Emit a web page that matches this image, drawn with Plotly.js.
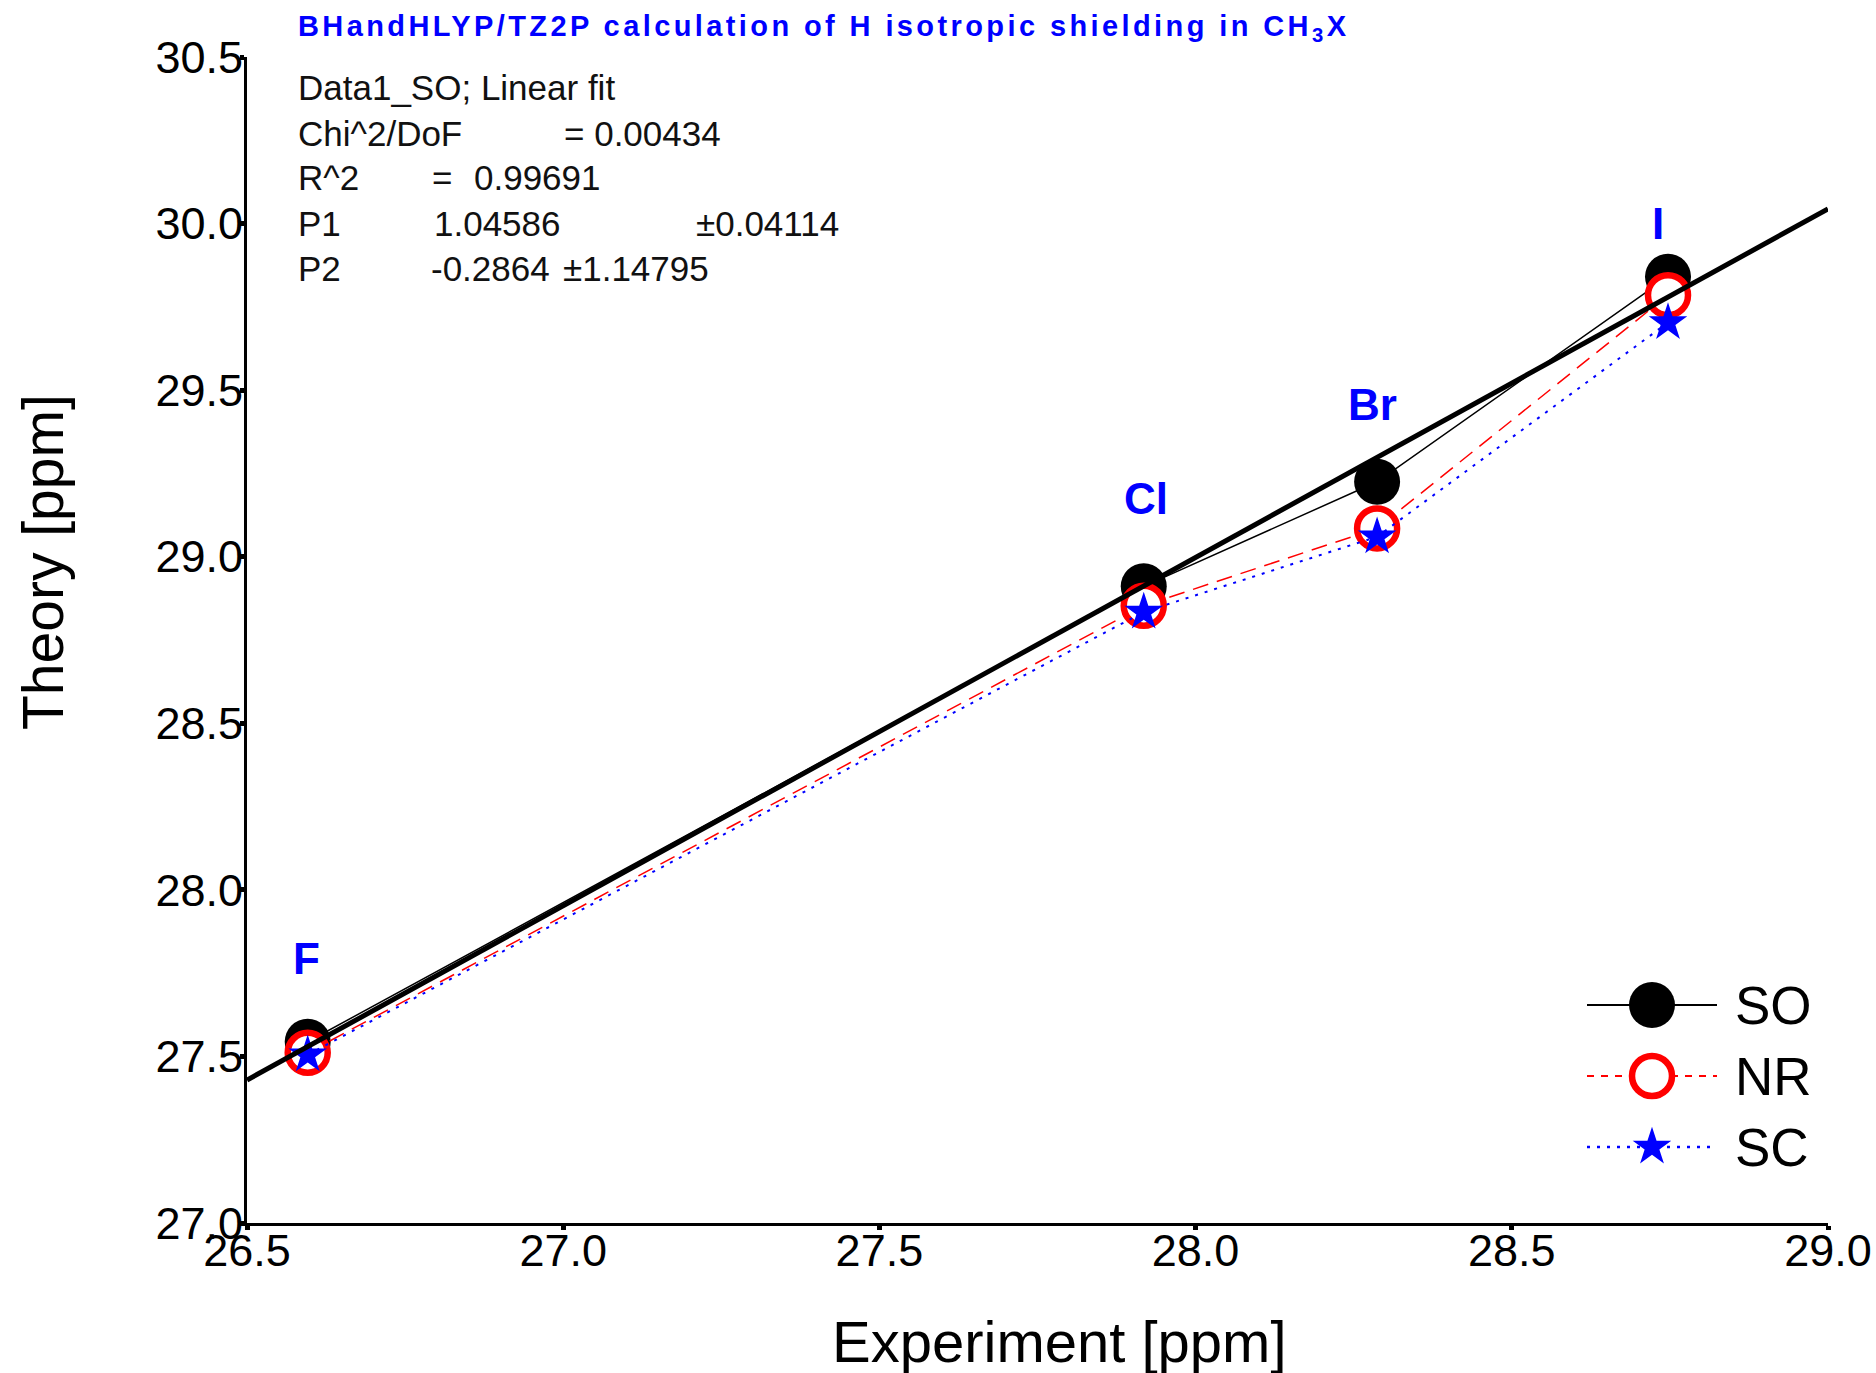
<!DOCTYPE html>
<html>
<head>
<meta charset="utf-8">
<script src="https://cdn.plot.ly/plotly-3.0.1.min.js"></script>
<style>
  html, body { margin: 0; padding: 0; background: #ffffff; }
  #chart { width: 1876px; height: 1373px; }
  #chart .gtitle { letter-spacing: 3.4px; }
</style>
</head>
<body>
<div id="chart"></div>
<script>
// ---------------- data ----------------
const elements   = ['F', 'Cl', 'Br', 'I'];
const expX       = [26.596, 27.918, 28.287, 28.747];   // Experiment [ppm]
const theorySO   = [27.544, 28.911, 29.225, 29.840];   // SO
const theoryNR   = [27.511, 28.853, 29.085, 29.785];   // NR
const theorySC   = [27.505, 28.834, 29.060, 29.703];   // SC
const fitX       = [26.5, 29.0];                        // linear fit end points
const fitY       = [27.429, 30.044];
const labelX     = [26.594, 27.922, 28.279, 28.731];   // element label anchors
const labelY     = [27.795, 29.176, 29.458, 30.000];
const xTickVals  = [26.5, 27.0, 27.5, 28.0, 28.5, 29.0];
const xTickText  = ['26.5', '27.0', '27.5', '28.0', '28.5', '29.0'];
const yTickVals  = [27.0, 27.5, 28.0, 28.5, 29.0, 29.5, 30.0, 30.5];
const yTickText  = ['27.0', '27.5', '28.0', '28.5', '29.0', '29.5', '30.0', '30.5'];
const seriesNames = ['SO', 'NR', 'SC'];
const fitStats = [
  ['Data1_SO; Linear fit'],
  ['Chi^2/DoF', '= 0.00434'],
  ['R^2', '=', '0.99691'],
  ['P1', '1.04586', '\u00b10.04114'],
  ['P2', '-0.2864', '\u00b11.14795']
];
const xTitle = 'Experiment [ppm]';
const yTitle = 'Theory [ppm]';
const chartTitle = '<b>BHandHLYP/TZ2P calculation of H isotropic shielding in CH<sub>3</sub>X</b>';

// ---------------- layout geometry (pixels) ----------------
const W = 1876, H = 1373;
const L = 247, R = 1828, T = 57, B = 1223;
const px2x = p => (p - L) / (R - L);
const px2y = p => (B - p) / (B - T);
const FONT = 'Liberation Sans, Arial, sans-serif';

const statCols = [
  [296],
  [296, 562],
  [296, 430, 472],
  [296, 432, 694],
  [296, 429, 561]
];
const statRows = [88, 133, 178, 223, 268];

const annotations = [];
fitStats.forEach((row, i) => {
  row.forEach((txt, j) => {
    annotations.push({
      xref: 'paper', yref: 'paper',
      x: px2x(statCols[i][j]), y: px2y(statRows[i]),
      xanchor: 'left', yanchor: 'middle',
      text: txt, showarrow: false,
      font: { family: FONT, size: 35, color: '#111111' }
    });
  });
});

elements.forEach((el, i) => {
  annotations.push({
    xref: 'x', yref: 'y',
    x: labelX[i], y: labelY[i],
    xanchor: 'center', yanchor: 'middle',
    text: '<b>' + el + '</b>', showarrow: false,
    font: { family: FONT, size: 44, color: '#0000ff' }
  });
});

// axis titles (placed like the reference, which is not centred on the axes)
annotations.push({
  xref: 'paper', yref: 'paper',
  x: px2x(1059), y: px2y(1341),
  xanchor: 'center', yanchor: 'middle',
  text: xTitle, showarrow: false,
  font: { family: FONT, size: 58, color: '#000000' }
});
annotations.push({
  xref: 'paper', yref: 'paper',
  x: px2x(43), y: px2y(562),
  xanchor: 'center', yanchor: 'middle', textangle: -90,
  text: yTitle, showarrow: false,
  font: { family: FONT, size: 57, color: '#000000' }
});

// custom legend (drawn on an overlay pixel-coordinate axis pair)
const legRows = [1005, 1076, 1147];
const legLineX = [1587, 1717];
const legMarkX = 1652;
const legTextX = 1733;
seriesNames.forEach((nm, i) => {
  annotations.push({
    xref: 'x2', yref: 'y2',
    x: legTextX, y: legRows[i],
    xanchor: 'left', yanchor: 'middle',
    text: nm, showarrow: false,
    font: { family: FONT, size: 53, color: '#000000' }
  });
});

const styles = {
  SO: { line: { color: '#000000', width: 1.5, dash: 'solid' },
        marker: { symbol: 'circle', size: 46, color: '#000000', line: { width: 0 } } },
  NR: { line: { color: '#ff0000', width: 1.5, dash: '16px,9px' },
        marker: { symbol: 'circle', size: 40, color: '#ffffff', line: { color: '#ff0000', width: 6.5 } } },
  SC: { line: { color: '#0000ff', width: 2, dash: '3px,7px' },
        marker: { symbol: 'star', size: 29, color: '#0000ff', line: { width: 0 } } }
};
const legDash = { SO: 'solid', NR: '7px,7px', SC: '3px,7px' };

const traces = [];
const ys = { SO: theorySO, NR: theoryNR, SC: theorySC };
seriesNames.forEach(nm => {
  traces.push({
    type: 'scatter', mode: 'lines+markers', name: nm,
    x: expX, y: ys[nm],
    line: styles[nm].line, marker: styles[nm].marker,
    showlegend: false, hoverinfo: 'x+y'
  });
});
traces.push({
  type: 'scatter', mode: 'lines', name: 'Linear fit',
  x: fitX, y: fitY,
  line: { color: '#000000', width: 5 },
  showlegend: false
});
seriesNames.forEach((nm, i) => {
  traces.push({
    type: 'scatter', mode: 'lines', xaxis: 'x2', yaxis: 'y2',
    x: legLineX, y: [legRows[i], legRows[i]],
    line: { color: styles[nm].line.color, width: nm === 'SC' ? 2.5 : 2, dash: legDash[nm] },
    showlegend: false, hoverinfo: 'skip'
  });
  traces.push({
    type: 'scatter', mode: 'markers', xaxis: 'x2', yaxis: 'y2',
    x: [legMarkX], y: [legRows[i]],
    marker: styles[nm].marker,
    showlegend: false, hoverinfo: 'skip'
  });
});

const axisCommon = {
  showline: true, linecolor: '#000000', linewidth: 3,
  showgrid: false, zeroline: false,
  ticks: 'outside', ticklen: 4, tickwidth: 5, tickcolor: '#000000',
  tickfont: { family: FONT, size: 45, color: '#000000' },
  tickmode: 'array', automargin: false, mirror: false
};

const layout = {
  width: W, height: H,
  paper_bgcolor: '#ffffff', plot_bgcolor: '#ffffff',
  margin: { l: L, r: W - R, t: T, b: H - B, pad: 0 },
  showlegend: false,
  title: {
    text: chartTitle,
    xref: 'container', yref: 'container',
    x: 298 / W, xanchor: 'left',
    y: 1 - 26 / H, yanchor: 'middle',
    font: { family: FONT, size: 29, color: '#0000ff' }
  },
  xaxis: Object.assign({}, axisCommon, {
    range: [26.5, 29.0], tickvals: xTickVals, ticktext: xTickText,
    ticklabelstandoff: -18
  }),
  yaxis: Object.assign({}, axisCommon, {
    range: [27.0, 30.5], tickvals: yTickVals, ticktext: yTickText,
    ticklabelstandoff: -12
  }),
  xaxis2: { overlaying: 'x', range: [L, R], visible: false, fixedrange: true },
  yaxis2: { overlaying: 'y', range: [B, T], visible: false, fixedrange: true },
  annotations: annotations
};

Plotly.newPlot('chart', traces, layout, { displayModeBar: false, staticPlot: true });
</script>
</body>
</html>
